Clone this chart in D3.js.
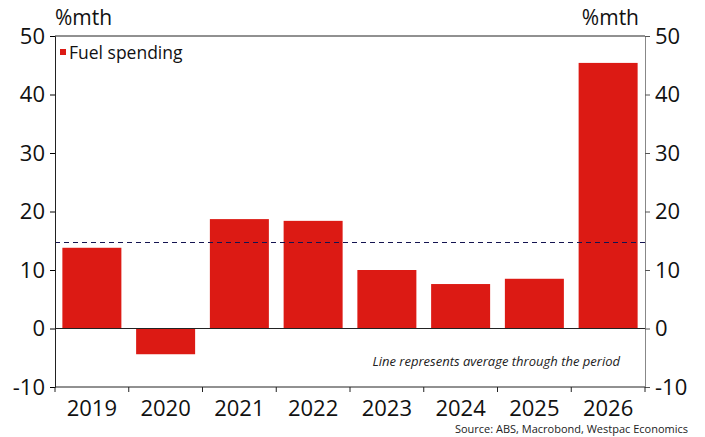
<!DOCTYPE html>
<html><head><meta charset="utf-8">
<script src="https://cdn.jsdelivr.net/npm/d3@7"></script>
<style>body{margin:0;background:#fff;} svg{display:block;font-family:"Open Sans",sans-serif;}</style>
</head><body>
<svg id="c" width="705" height="437"></svg>
<script>
const categories = ["2019","2020","2021","2022","2023","2024","2025","2026"];
const fuelValues = [13.8, -4.4, 18.7, 18.4, 10.0, 7.6, 8.5, 45.4];
const averageValue = 14.7;
const yTicks = [-10, 0, 10, 20, 30, 40, 50];

const FONT = "'Open Sans',sans-serif";
const svg = d3.select("#c");
const L = 55, R = 645, T = 36, B = 387;
const x = d3.scaleBand().domain(categories).range([L, R]).paddingInner(0.2).paddingOuter(0.1);
const y = d3.scaleLinear().domain([-10, 50]).range([B, T]);

// frame top line
svg.append("line").attr("x1", L).attr("x2", R).attr("y1", T).attr("y2", T).attr("stroke", "#222").attr("stroke-width", 1);

// bars
svg.selectAll("rect.bar").data(categories).join("rect")
  .attr("x", d => x(d))
  .attr("width", x.bandwidth())
  .attr("y", (d, i) => y(Math.max(0, fuelValues[i])))
  .attr("height", (d, i) => Math.abs(y(fuelValues[i]) - y(0)))
  .attr("fill", "#dc1a14");

// zero line
svg.append("line").attr("x1", L).attr("x2", R).attr("y1", y(0)).attr("y2", y(0)).attr("stroke", "#222").attr("stroke-width", 1.2);

// average line
svg.append("line").attr("x1", L).attr("x2", R).attr("y1", y(averageValue)).attr("y2", y(averageValue))
  .attr("stroke", "#141450").attr("stroke-width", 1.2).attr("stroke-dasharray", "5,4");

// left axis
const la = svg.append("g").attr("transform", `translate(${L},0)`)
  .call(d3.axisLeft(y).tickValues(yTicks).tickFormat(d => String(d)).tickSize(5).tickPadding(5));
la.select(".domain").attr("stroke", "#222");
la.selectAll("text").attr("font-size", 22).attr("fill", "#111").attr("font-family", FONT);

// right axis
const ra = svg.append("g").attr("transform", `translate(${R},0)`)
  .call(d3.axisRight(y).tickValues(yTicks).tickFormat(d => String(d)).tickSize(5).tickPadding(5));
ra.select(".domain").attr("stroke", "#888");
ra.selectAll("line").attr("stroke", "#555");
ra.selectAll("text").attr("font-size", 22).attr("fill", "#111").attr("font-family", FONT);

// bottom axis: boundary ticks
const xb = d3.scaleLinear().domain([0, categories.length]).range([L, R]);
svg.append("line").attr("x1", L).attr("x2", R).attr("y1", B).attr("y2", B).attr("stroke", "#222");
svg.selectAll("line.bt").data(d3.range(categories.length + 1)).join("line")
  .attr("x1", d => xb(d)).attr("x2", d => xb(d)).attr("y1", B).attr("y2", B + 5).attr("stroke", "#222");
svg.selectAll("text.xl").data(categories).join("text")
  .attr("x", d => x(d) + x.bandwidth() / 2).attr("y", B + 29)
  .attr("text-anchor", "middle").attr("font-size", 22).attr("fill", "#111").text(d => d);

// units
svg.append("text").attr("x", L).attr("y", 25).attr("font-size", 21).attr("fill", "#111").text("%mth");
svg.append("text").attr("x", R - 6).attr("y", 25).attr("text-anchor", "end").attr("font-size", 21).attr("fill", "#111").text("%mth");

// legend
svg.append("rect").attr("x", 60).attr("y", 49).attr("width", 6).attr("height", 6).attr("fill", "#dc1a14");
svg.append("text").attr("x", 69).attr("y", 59).attr("font-size", 17.5).attr("fill", "#111").text("Fuel spending");

// note
svg.append("text").attr("x", 620).attr("y", 366).attr("text-anchor", "end").attr("font-size", 13)
  .attr("font-style", "italic").attr("fill", "#222").text("Line represents average through the period");

// source
svg.append("text").attr("x", 688).attr("y", 433).attr("text-anchor", "end").attr("font-size", 11)
  .attr("fill", "#222").text("Source: ABS, Macrobond, Westpac Economics");
</script>
</body></html>
